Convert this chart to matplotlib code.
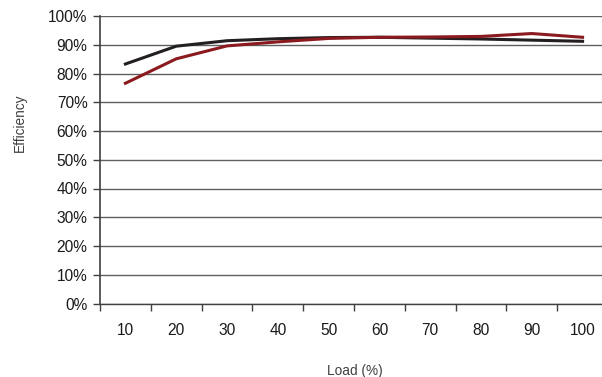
import matplotlib
matplotlib.use("Agg")
import matplotlib.pyplot as plt
import numpy as np
from matplotlib.ticker import FixedLocator, FuncFormatter

plt.rcParams['font.family'] = ['Liberation Sans', 'DejaVu Sans']

load_pct = ["10", "20", "30", "40", "50", "60", "70", "80", "90", "100"]
eff_black = [83.3, 89.5, 91.4, 92.1, 92.5, 92.6, 92.3, 92.0, 91.6, 91.2]
eff_red = [76.6, 85.1, 89.6, 91.0, 92.2, 92.6, 92.7, 92.9, 93.9, 92.6]
y_ticks = list(range(0, 101, 10))

fig = plt.figure(figsize=(6.02, 3.77), dpi=100)
W, H = 602, 377
left, right, top, bottom = 100, 608, 16, 303.5
ax = fig.add_axes([left / W, (H - bottom) / H, (right - left) / W, (bottom - top) / H])

x = np.arange(len(load_pct))
ax.plot(x, eff_black, color='#231f20', lw=2.2, solid_joinstyle='miter', zorder=3)
ax.plot(x, eff_red, color='#8b1a1f', lw=2.2, solid_joinstyle='miter', zorder=4)

ax.set_xlim(-0.5, len(load_pct) - 0.5)
ax.set_ylim(0, 100)

ax.set_yticks(y_ticks)
ax.yaxis.set_major_formatter(FuncFormatter(lambda v, p: f"{int(v)}%"))
ax.yaxis.grid(True, color='#606060', lw=1.0)
ax.set_axisbelow(True)

ax.set_xticks(x)
ax.set_xticklabels(load_pct)
ax.xaxis.set_minor_locator(FixedLocator(np.arange(-0.5, len(load_pct), 1.0)))
ax.tick_params(axis='x', which='major', length=0, pad=14, labelsize=11.2, colors='#1a1a1a')
ax.tick_params(axis='x', which='minor', length=5, width=1, color='#404040', direction='out')
ax.tick_params(axis='y', length=5, width=1, color='#404040', pad=4, labelsize=11.2,
               labelcolor='#1a1a1a')

for s in ('top', 'right'):
    ax.spines[s].set_visible(False)
ax.spines['left'].set_color('#404040')
ax.spines['bottom'].set_color('#404040')
ax.spines['left'].set_linewidth(1.2)
ax.spines['bottom'].set_linewidth(1.0)

fig.text(19.5 / W, 1 - 123 / H, "Efficiency", rotation=90, ha='center', va='center',
         fontsize=9.8, color='#404040')
fig.text(355 / W, 1 - 371 / H, "Load (%)", ha='center', va='center',
         fontsize=9.8, color='#404040')

fig.savefig("out.png", dpi=100)
